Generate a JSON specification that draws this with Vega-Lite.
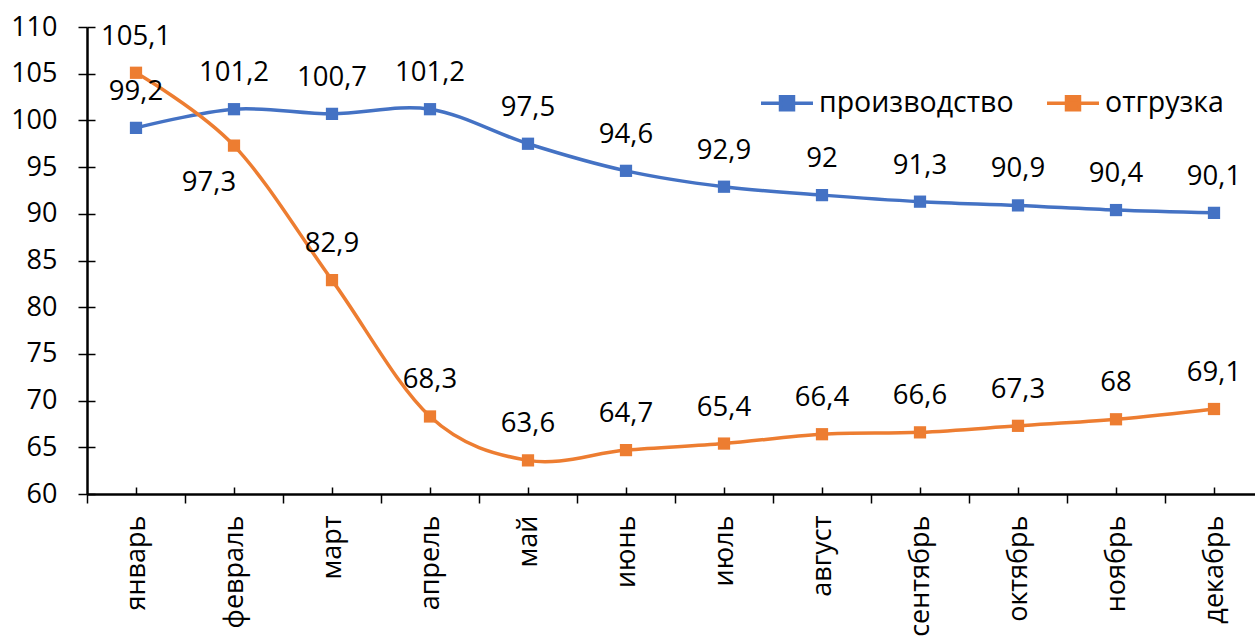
{
  "$schema": "https://vega.github.io/schema/vega-lite/v6.json",
  "autosize": {"type": "none"},
  "width": 1176,
  "height": 467,
  "padding": {"left": 87, "top": 27, "right": 0, "bottom": 145},
  "background": "white",
  "config": {
    "locale": {"number": {"decimal": ",", "thousands": " ", "grouping": [3], "currency": ["", ""]}},
    "font": "Open Sans",
    "view": {"stroke": null}
  },
  "data": {
    "values": [
      {"month": "январь", "series": "производство", "value": 99.2},
      {"month": "февраль", "series": "производство", "value": 101.2},
      {"month": "март", "series": "производство", "value": 100.7},
      {"month": "апрель", "series": "производство", "value": 101.2},
      {"month": "май", "series": "производство", "value": 97.5},
      {"month": "июнь", "series": "производство", "value": 94.6},
      {"month": "июль", "series": "производство", "value": 92.9},
      {"month": "август", "series": "производство", "value": 92},
      {"month": "сентябрь", "series": "производство", "value": 91.3},
      {"month": "октябрь", "series": "производство", "value": 90.9},
      {"month": "ноябрь", "series": "производство", "value": 90.4},
      {"month": "декабрь", "series": "производство", "value": 90.1},
      {"month": "январь", "series": "отгрузка", "value": 105.1},
      {"month": "февраль", "series": "отгрузка", "value": 97.3},
      {"month": "март", "series": "отгрузка", "value": 82.9},
      {"month": "апрель", "series": "отгрузка", "value": 68.3},
      {"month": "май", "series": "отгрузка", "value": 63.6},
      {"month": "июнь", "series": "отгрузка", "value": 64.7},
      {"month": "июль", "series": "отгрузка", "value": 65.4},
      {"month": "август", "series": "отгрузка", "value": 66.4},
      {"month": "сентябрь", "series": "отгрузка", "value": 66.6},
      {"month": "октябрь", "series": "отгрузка", "value": 67.3},
      {"month": "ноябрь", "series": "отгрузка", "value": 68},
      {"month": "декабрь", "series": "отгрузка", "value": 69.1}
    ]
  },
  "encoding": {
    "x": {
      "field": "month", "type": "nominal", "sort": null,
      "scale": {"type": "band", "paddingInner": 0, "paddingOuter": 0}
    },
    "y": {
      "field": "value", "type": "quantitative",
      "scale": {"domain": [60, 110], "nice": false, "zero": false}
    }
  },
  "layer": [
    {
      "mark": {"type": "line", "interpolate": "cardinal", "strokeWidth": 3.5},
      "encoding": {
        "x": {
          "field": "month", "type": "nominal", "sort": null,
          "scale": {"type": "band", "paddingInner": 0, "paddingOuter": 0},
          "axis": {
            "title": null, "orient": "bottom",
            "labelAngle": -90, "labelAlign": "right", "labelBaseline": "middle",
            "labelFontSize": 27, "labelColor": "black", "labelPadding": 12,
            "labelFont": "Open Sans",
            "domainColor": "black", "domainWidth": 2.5,
            "tickColor": "black", "tickWidth": 1.5, "tickSize": 9,
            "tickBand": "extent", "labelBound": false, "labelOverlap": false, "labelFlush": false
          }
        },
        "y": {
          "field": "value", "type": "quantitative",
          "scale": {"domain": [60, 110], "nice": false, "zero": false},
          "axis": {
            "title": null, "orient": "left", "values": [60, 65, 70, 75, 80, 85, 90, 95, 100, 105, 110],
            "labelFontSize": 27, "labelColor": "black", "labelPadding": 21,
            "labelFont": "Open Sans",
            "domainColor": "black", "domainWidth": 2.5,
            "tickColor": "black", "tickWidth": 1.5, "tickSize": 9, "grid": false
          }
        },
        "color": {
          "field": "series", "type": "nominal",
          "scale": {"domain": ["производство", "отгрузка"], "range": ["#4472C4", "#ED7D31"]},
          "legend": {
            "title": null, "orient": "none", "direction": "horizontal",
            "legendX": 672, "legendY": 48,
            "symbolType": "M-1,0H1M-0.25,-0.25H0.25V0.25H-0.25Z",
            "symbolSize": 2700, "symbolStrokeWidth": 3.5,
            "labelFontSize": 28.5, "labelColor": "black", "labelFont": "Open Sans",
            "labelOffset": 4, "columnPadding": 26, "padding": 0, "labelLimit": 400,
            "encode": {"symbols": {"update": {"fill": {"scale": "color", "field": "value"}, "fillOpacity": {"value": 1}}}}
          }
        }
      }
    },
    {
      "mark": {"type": "point", "shape": "square", "filled": true, "size": 150, "opacity": 1},
      "encoding": {
        "x": {
          "field": "month", "type": "nominal", "sort": null,
          "scale": {"type": "band", "paddingInner": 0, "paddingOuter": 0},
          "axis": {
            "title": null, "orient": "bottom", "labels": false, "domain": false,
            "tickColor": "black", "tickWidth": 1.5, "tickSize": -7, "tickBand": "center"
          }
        },
        "y": {
          "field": "value", "type": "quantitative",
          "scale": {"domain": [60, 110], "nice": false, "zero": false},
          "axis": {
            "title": null, "orient": "left", "labels": false, "domain": false, "grid": false,
            "values": [60, 65, 70, 75, 80, 85, 90, 95, 100, 105, 110],
            "tickColor": "black", "tickWidth": 1.5, "tickSize": -8
          }
        },
        "color": {"field": "series", "type": "nominal", "legend": null}
      }
    },
    {
      "transform": [{"filter": "!(datum.series === 'отгрузка' && datum.month === 'февраль')"}],
      "mark": {"type": "text", "fontSize": 27.5, "color": "black", "baseline": "alphabetic", "align": "center", "dy": -28, "font": "Open Sans"},
      "encoding": {
        "x": {"field": "month", "type": "nominal", "sort": null, "axis": null,
              "scale": {"type": "band", "paddingInner": 0, "paddingOuter": 0}},
        "y": {"field": "value", "type": "quantitative", "axis": null,
              "scale": {"domain": [60, 110], "nice": false, "zero": false}},
        "text": {"field": "value", "type": "quantitative", "format": ".1~f"}
      }
    },
    {
      "transform": [{"filter": "datum.series === 'отгрузка' && datum.month === 'февраль'"}],
      "mark": {"type": "text", "fontSize": 27.5, "color": "black", "baseline": "alphabetic", "align": "center", "dx": -25, "dy": 45, "font": "Open Sans"},
      "encoding": {
        "x": {"field": "month", "type": "nominal", "sort": null, "axis": null,
              "scale": {"type": "band", "paddingInner": 0, "paddingOuter": 0}},
        "y": {"field": "value", "type": "quantitative", "axis": null,
              "scale": {"domain": [60, 110], "nice": false, "zero": false}},
        "text": {"field": "value", "type": "quantitative", "format": ".1~f"}
      }
    }
  ],
  "resolve": {"axis": {"x": "independent", "y": "independent"}}
}
